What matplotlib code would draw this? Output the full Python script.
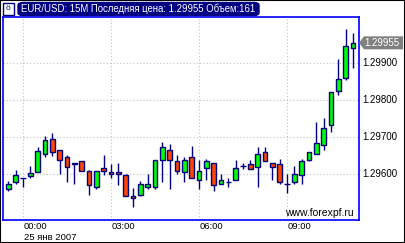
import matplotlib
matplotlib.use('Agg')
import matplotlib.pyplot as plt
from matplotlib.patches import Rectangle, Polygon, FancyBboxPatch

plt.rcParams['font.family'] = ['Liberation Sans', 'DejaVu Sans']

# EUR/USD 15M, 25 янв 2007
opens = [1.29559, 1.29577, 1.29589, 1.29593, 1.29604, 1.29653, 1.29695, 1.29665,
         1.29644, 1.29625, 1.29635, 1.29606, 1.29563, 1.29614, 1.29605, 1.29605,
         1.29595, 1.29540, 1.29543, 1.29565, 1.29563, 1.29636, 1.29665, 1.29635,
         1.29604, 1.29644, 1.29584, 1.29614, 1.29630, 1.29573, 1.29578, 1.29584,
         1.29621, 1.29625, 1.29618, 1.29660, 1.29630, 1.29625, 1.29573, 1.29577,
         1.29595, 1.29638, 1.29654, 1.29679, 1.29731, 1.29825, 1.29859, 1.29941]
highs = [1.29579, 1.29609, 1.29589, 1.29620, 1.29671, 1.29702, 1.29709, 1.29665,
         1.29650, 1.29630, 1.29635, 1.29609, 1.29607, 1.29650, 1.29625, 1.29630,
         1.29600, 1.29560, 1.29579, 1.29600, 1.29638, 1.29685, 1.29680, 1.29650,
         1.29645, 1.29675, 1.29638, 1.29640, 1.29630, 1.29600, 1.29589, 1.29638,
         1.29630, 1.29638, 1.29671, 1.29671, 1.29630, 1.29639, 1.29600, 1.29620,
         1.29639, 1.29660, 1.29739, 1.29750, 1.29821, 1.29911, 1.29993, 1.29983]
lows = [1.29553, 1.29571, 1.29563, 1.29589, 1.29604, 1.29644, 1.29647, 1.29598,
        1.29577, 1.29571, 1.29607, 1.29542, 1.29559, 1.29595, 1.29589, 1.29568,
        1.29539, 1.29509, 1.29540, 1.29558, 1.29557, 1.29576, 1.29557, 1.29600,
        1.29576, 1.29589, 1.29557, 1.29584, 1.29553, 1.29573, 1.29563, 1.29584,
        1.29612, 1.29613, 1.29563, 1.29635, 1.29582, 1.29571, 1.29547, 1.29571,
        1.29571, 1.29634, 1.29654, 1.29665, 1.29713, 1.29813, 1.29854, 1.29886]
closes = [1.29573, 1.29595, 1.29589, 1.29602, 1.29661, 1.29691, 1.29659, 1.29638,
          1.29618, 1.29630, 1.29607, 1.29570, 1.29607, 1.29607, 1.29600, 1.29600,
          1.29539, 1.29535, 1.29571, 1.29571, 1.29638, 1.29671, 1.29638, 1.29608,
          1.29638, 1.29589, 1.29608, 1.29635, 1.29570, 1.29584, 1.29578, 1.29614,
          1.29621, 1.29613, 1.29654, 1.29635, 1.29618, 1.29577, 1.29573, 1.29600,
          1.29635, 1.29660, 1.29684, 1.29725, 1.29821, 1.29856, 1.29946, 1.29955]

time_ticks = [2, 14, 26, 38]
time_labels = ['00:00', '03:00', '06:00', '09:00']
price_ticks = [1.296, 1.297, 1.298, 1.299]
last_price = 1.29955
volume = 161

W, H = 405, 243
NAVY = '#000080'
BLUE = '#0000ff'


def px(x, y):
    """пиксели (от левого верхнего угла) -> доли фигуры"""
    return x / W, 1 - y / H


fig = plt.figure(figsize=(W / 100, H / 100), dpi=100)
fig.patch.set_facecolor('white')
ax = fig.add_axes([3 / W, 1 - 220 / H, 356 / W, 203 / H])

idx = list(range(len(opens)))
ax.vlines(idx, lows, highs, color=NAVY, lw=1.0, zorder=2)
for i in idx:
    o, c = opens[i], closes[i]
    if c == o:
        ax.hlines(o, i - 0.36, i + 0.36, color=NAVY, lw=1.0, zorder=3)
        continue
    ax.bar(i, c - o, bottom=o, width=0.62,
           color='#00ff00' if c > o else '#ff4500',
           edgecolor=NAVY, linewidth=1.0, zorder=3)

ax.set_xlim(-0.73, 47.82)
ax.set_ylim(1.294741, 1.300251)
for t in time_ticks:
    ax.axvline(t, color='#c0c0c0', lw=0.8, ls=(0, (1, 2)), zorder=1)
for p in price_ticks:
    ax.axhline(p, color='#c0c0c0', lw=0.8, ls=(0, (1, 2)), zorder=1)
ax.set_xticks([])
ax.set_yticks([])
for s in ax.spines.values():
    s.set_color(BLUE)
    s.set_linewidth(1.2)

# подписи осей
for t, lab in zip(time_ticks, time_labels):
    ax.annotate(lab, (t, 0), xycoords=('data', 'axes fraction'), xytext=(0.5, -1.5),
                textcoords='offset points', ha='left', va='top', fontsize=6.8)
ax.annotate('25 янв 2007', (time_ticks[0], 0), xycoords=('data', 'axes fraction'),
            xytext=(0.5, -9.5), textcoords='offset points', ha='left', va='top', fontsize=6.8)
for p in price_ticks:
    ax.annotate(f'{p:.5f}', (1, p), xycoords=('axes fraction', 'data'), xytext=(2.5, 0),
                textcoords='offset points', ha='left', va='center', fontsize=7)

# ярлык последней цены
yl = ax.transData.transform((0, last_price))[1]
yl = H - yl
tag = Polygon([px(359, yl), px(364, yl - 6.5), px(403, yl - 6.5), px(403, yl + 6.5), px(364, yl + 6.5)],
              closed=True, transform=fig.transFigure, facecolor='#808080', edgecolor='none')
fig.patches.append(tag)
fig.text(*px(364.5, yl), f'{last_price:.5f}', color='white', fontsize=7, ha='left', va='center')

ax.text(0.985, 0.012, 'www.forexpf.ru', transform=ax.transAxes, ha='right', va='bottom',
        fontsize=7.5, color='black')

# заголовок
bar = FancyBboxPatch(px(18, 15.5), 241 / W, 13 / H, boxstyle='round,pad=0,rounding_size=0.012',
                     transform=fig.transFigure, facecolor=NAVY, edgecolor=NAVY)
fig.patches.append(bar)
fig.text(*px(21, 9), f'EUR/USD: 15M Последняя цена: {last_price:.5f} Объем:{volume}',
         color='white', fontsize=6.9, ha='left', va='center')
icon = Rectangle(px(3, 15), 11 / W, 12 / H, transform=fig.transFigure,
                 facecolor='white', edgecolor=NAVY, lw=1)
fig.patches.append(icon)
fig.text(*px(8.5, 9), 'ö', color=NAVY, fontsize=6, ha='center', va='center')

fig.patches.append(Rectangle((0, 0), 1, 1, transform=fig.transFigure, fill=False,
                             edgecolor='black', lw=1.5))

fig.savefig('out.png', dpi=100)
